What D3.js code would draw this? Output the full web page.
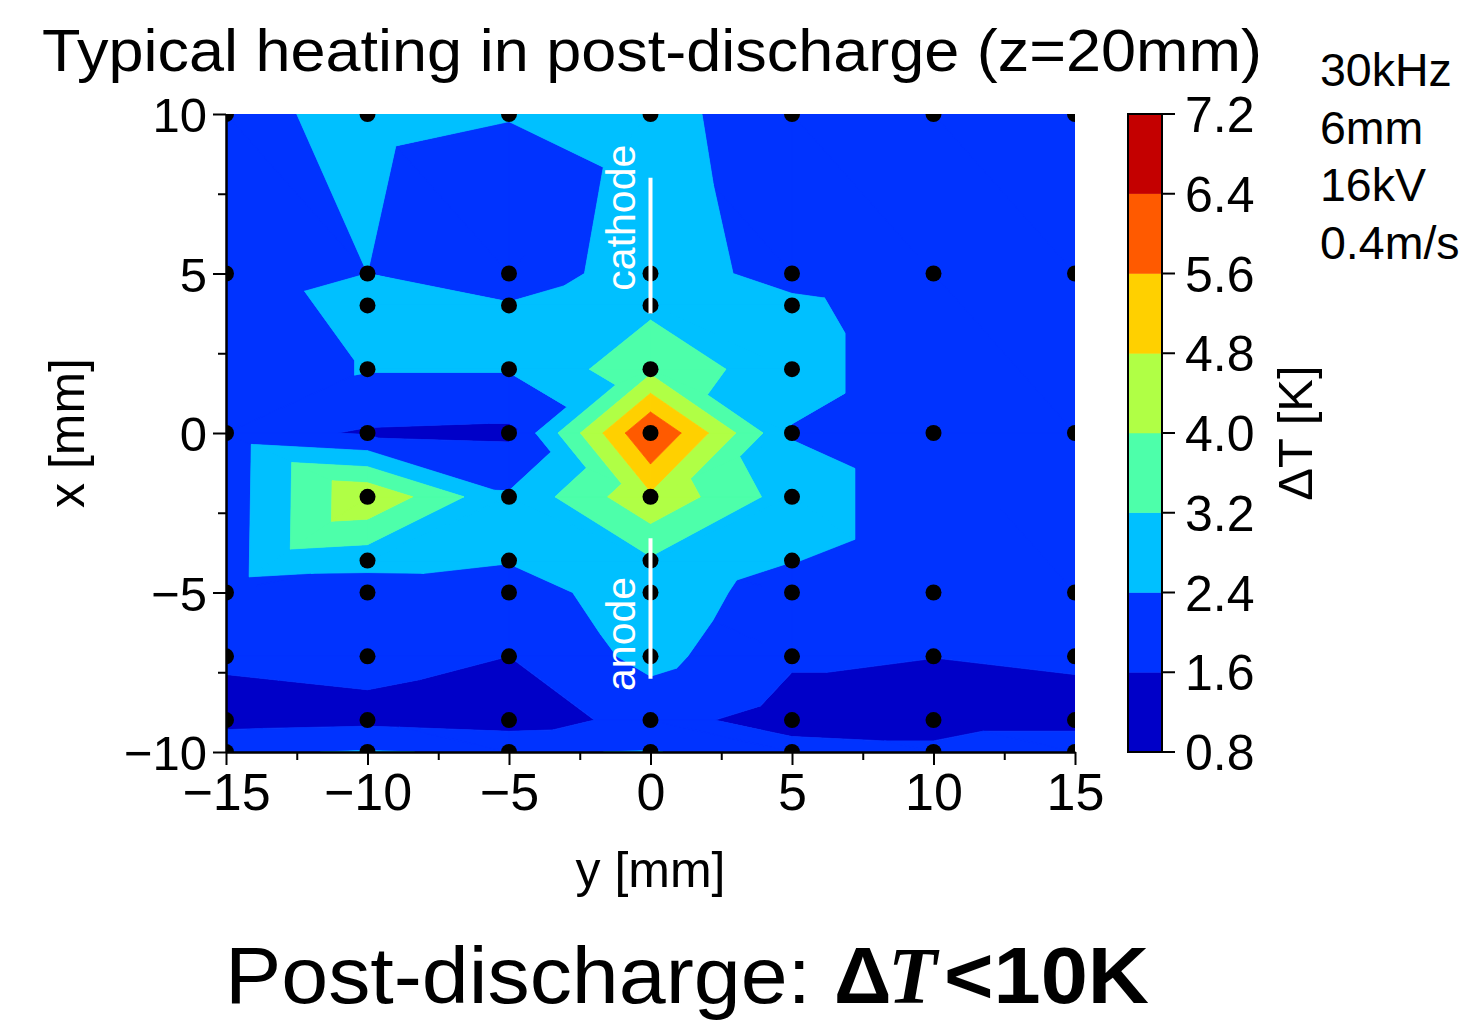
<!DOCTYPE html>
<html><head><meta charset="utf-8">
<script src="https://cdn.jsdelivr.net/npm/d3@7"></script>
<style>body{margin:0;background:#fff} text{font-family:"Liberation Sans", Arial, sans-serif;fill:#000}</style>
</head><body><svg id="c" width="1464" height="1025"></svg>
<script>
// measurement columns (y, mm) and rows (x, mm)
const yPositions = [-15,-10,-5,0,5,10,15];
const xFull = [10,5,4,2,0,-2,-4,-5,-7,-9,-10];
const xSparse = [10,5,0,-5,-7,-9,-10];
// ΔT [K] per column, listed from x=10 down to x=-10
const dT_yM15 = [2.3,1.9,1.9,1.95,1.72,1.3,2.3];
const dT_yM10 = [2.5,2.4,2.8,2.45,1.52,4.7,2.7,1.9,1.82,1.4,2.45];
const dT_yM5  = [2.42,2.0,2.45,2.45,1.45,2.5,2.45,1.95,1.6,1.22,2.3];
const dT_y0   = [2.6,2.75,3.03,3.77,6.5,4.65,3.1,2.95,2.65,1.85,2.45];
const dT_y5   = [2.05,2.15,2.55,2.7,2.35,2.8,2.42,1.95,1.7,1.3,1.88];
const dT_y10  = [1.9,1.9,1.9,1.9,1.61,1.3,1.76];
const dT_y15  = [1.9,1.9,1.9,1.9,1.72,1.3,2.16];
const columnRows = [xSparse,xFull,xFull,xFull,xFull,xSparse,xSparse];
const columnVals = [dT_yM15,dT_yM10,dT_yM5,dT_y0,dT_y5,dT_y10,dT_y15];
// contour levels and colours
const levels = [0.8,1.6,2.4,3.2,4.0,4.8,5.6,6.4,7.2];
const levelColors = ["#0000C8","#0033FF","#00C0FF","#4DFFAA","#B0FF45","#FFD000","#FF5A00","#C40000"];
const xTicks = [-15,-10,-5,0,5,10,15];
const yTicks = [-10,-5,0,5,10];
const electrodes = [{name:"cathode", from:8, to:3.75, label:6.75}, {name:"anode", from:-3.3, to:-7.7, label:-6.3}];
const params = ["30kHz","6mm","16kV","0.4m/s"];

const svg = d3.select("#c");
const L=226,R=1075,T=114,B=752;
const xS = d3.scaleLinear().domain([-15,15]).range([L,R]);
const yS = d3.scaleLinear().domain([-10,10]).range([B,T]);
const cS = d3.scaleLinear().domain([0.8,7.2]).range([B,T]);

const cols = yPositions.map((y,i)=>columnRows[i].map((x,j)=>({y, x, v:columnVals[i][j], px:xS(y), py:yS(x)})));
const pts = cols.flat();

function inCircle(a,b,c,d){
  const adx=a.px-d.px, ady=a.py-d.py, bdx=b.px-d.px, bdy=b.py-d.py, cdx=c.px-d.px, cdy=c.py-d.py;
  const det=(adx*adx+ady*ady)*(bdx*cdy-cdx*bdy)-(bdx*bdx+bdy*bdy)*(adx*cdy-cdx*ady)+(cdx*cdx+cdy*cdy)*(adx*bdy-bdx*ady);
  const o=(b.px-a.px)*(c.py-a.py)-(b.py-a.py)*(c.px-a.px);
  return det*Math.sign(o)>0;
}
// triangulate strip by strip between neighbouring measurement columns
const tris=[];
for(let c=0;c<cols.length-1;c++){
  const A=cols[c], Bc=cols[c+1]; let i=0,j=0;
  while(i<A.length-1 || j<Bc.length-1){
    let advA;
    if(i===A.length-1) advA=false;
    else if(j===Bc.length-1) advA=true;
    else if(A[i].x===Bc[j].x && A[i+1].x===Bc[j+1].x){
      const mTB=(A[i].v+Bc[j+1].v)/2, mBT=(Bc[j].v+A[i+1].v)/2;
      advA = mBT < mTB-0.25;
    } else advA = !inCircle(A[i],Bc[j],A[i+1],Bc[j+1]);
    if(advA){tris.push([A[i],Bc[j],A[i+1]]); i++;} else {tris.push([A[i],Bc[j],Bc[j+1]]); j++;}
  }
}

function clip(poly, f){
  const out=[]; const n=poly.length;
  for(let i=0;i<n;i++){
    const a=poly[i], b=poly[(i+1)%n], fa=f(a), fb=f(b);
    if(fa>=0) out.push(a);
    if((fa>=0)!==(fb>=0)){
      const t=fa/(fa-fb);
      out.push({px:a.px+t*(b.px-a.px), py:a.py+t*(b.py-a.py), v:a.v+t*(b.v-a.v)});
    }
  }
  return out;
}
const defs = svg.append("defs");
defs.append("clipPath").attr("id","plot").append("rect").attr("x",L).attr("y",T).attr("width",R-L).attr("height",B-T);

const bandG = svg.append("g").attr("clip-path","url(#plot)");
for(let k=0;k<levelColors.length;k++){
  const lo = k===0?-Infinity:levels[k], hi = k===levelColors.length-1?Infinity:levels[k+1];
  let d="";
  tris.forEach(tr=>{
    let poly=tr.slice();
    poly=clip(poly,p=>p.v-lo); if(poly.length<3) return;
    poly=clip(poly,p=>hi-p.v); if(poly.length<3) return;
    d+="M"+poly.map(p=>p.px.toFixed(2)+","+p.py.toFixed(2)).join("L")+"Z";
  });
  if(d) bandG.append("path").attr("d",d).attr("fill",levelColors[k]).attr("stroke",levelColors[k]).attr("stroke-width",0.8).attr("stroke-linejoin","round");
}
// measurement points
bandG.selectAll("circle").data(pts).join("circle")
  .attr("cx",d=>xS(d.y)).attr("cy",d=>yS(d.x)).attr("r",8).attr("fill","#000");

// electrodes
const eg = svg.append("g");
eg.selectAll("line").data(electrodes).join("line")
  .attr("x1",xS(0)).attr("x2",xS(0)).attr("y1",d=>yS(d.from)).attr("y2",d=>yS(d.to))
  .attr("stroke","#fff").attr("stroke-width",4);
eg.selectAll("text").data(electrodes).join("text")
  .attr("transform",d=>`translate(${xS(0)-16},${yS(d.label)}) rotate(-90)`)
  .attr("text-anchor","middle").attr("font-size",41).style("fill","#fff")
  .text(d=>d.name);

// axes
const axB = svg.append("g").attr("transform",`translate(0,${B})`)
  .call(d3.axisBottom(xS).tickValues(xTicks).tickSize(13).tickSizeOuter(0).tickPadding(8));
const axBm = svg.append("g").attr("transform",`translate(0,${B})`)
  .call(d3.axisBottom(xS).tickValues(d3.range(-12.5,15,5)).tickSize(8).tickFormat(""));
const axL = svg.append("g").attr("transform",`translate(${L},0)`)
  .call(d3.axisLeft(yS).tickValues(yTicks).tickSize(13).tickSizeOuter(0).tickPadding(6));
const axLm = svg.append("g").attr("transform",`translate(${L},0)`)
  .call(d3.axisLeft(yS).tickValues([-7.5,-2.5,2.5,7.5]).tickSize(8).tickFormat(""));
[axB,axBm,axL,axLm].forEach(a=>{a.selectAll("path,line").attr("stroke","#000").attr("stroke-width",2); a.select(".domain").attr("stroke-width",2.5);});
axBm.select(".domain").remove(); axLm.select(".domain").remove();
axB.selectAll("text").attr("font-size",52).attr("font-family","Liberation Sans, Arial").attr("dy","0.72em");
axL.selectAll("text").attr("font-size",49).attr("font-family","Liberation Sans, Arial").attr("dy","0.36em");

svg.append("text").attr("x",xS(0)).attr("y",887).attr("text-anchor","middle").attr("font-size",50).text("y [mm]");
svg.append("text").attr("transform",`translate(84,${yS(0)}) rotate(-90)`).attr("text-anchor","middle").attr("font-size",50).text("x [mm]");

// colour bar
const cbL=1128, cbR=1162;
const cb = svg.append("g");
cb.selectAll("rect").data(levelColors).join("rect")
  .attr("x",cbL).attr("width",cbR-cbL)
  .attr("y",(d,i)=>cS(levels[i+1])).attr("height",(d,i)=>cS(levels[i])-cS(levels[i+1]))
  .attr("fill",d=>d).attr("stroke",d=>d).attr("stroke-width",0.5);
cb.append("rect").attr("x",cbL).attr("y",T).attr("width",cbR-cbL).attr("height",B-T).attr("fill","none").attr("stroke","#000").attr("stroke-width",2);
cb.selectAll("line").data(levels).join("line").attr("x1",cbR).attr("x2",cbR+13)
  .attr("y1",d=>cS(d)).attr("y2",d=>cS(d)).attr("stroke","#000").attr("stroke-width",2);
cb.selectAll("text.t").data(levels).join("text").attr("class","t")
  .attr("x",1185).attr("y",d=>cS(d)).attr("dy","0.36em").attr("font-size",50).text(d=>d.toFixed(1));
svg.append("text").attr("transform",`translate(1312,${yS(0)}) rotate(-90)`).attr("text-anchor","middle").attr("font-size",49).text("ΔT [K]");

// title and annotations
svg.append("text").attr("x",42).attr("y",71).attr("font-size",60).attr("textLength",1220).attr("lengthAdjust","spacingAndGlyphs").text("Typical heating in post-discharge (z=20mm)");
svg.selectAll("text.p").data(params).join("text").attr("class","p")
  .attr("x",1320).attr("y",(d,i)=>86+i*57.5).attr("font-size",46.5).text(d=>d);

const bt = svg.append("g");
bt.append("text").attr("x",225).attr("y",1003).attr("font-size",80).attr("textLength",586).attr("lengthAdjust","spacingAndGlyphs").text("Post-discharge:");
bt.append("text").attr("x",834).attr("y",1003).attr("font-size",80).attr("font-weight","bold").text("Δ");
bt.append("text").attr("x",888).attr("y",1003).attr("font-size",80).attr("font-weight","bold").attr("font-style","italic").style("font-family","Liberation Serif, Times New Roman, serif").text("T");
bt.append("text").attr("x",944).attr("y",1003).attr("font-size",80).attr("font-weight","bold").attr("textLength",205).attr("lengthAdjust","spacingAndGlyphs").text("<10K");
</script></body></html>
